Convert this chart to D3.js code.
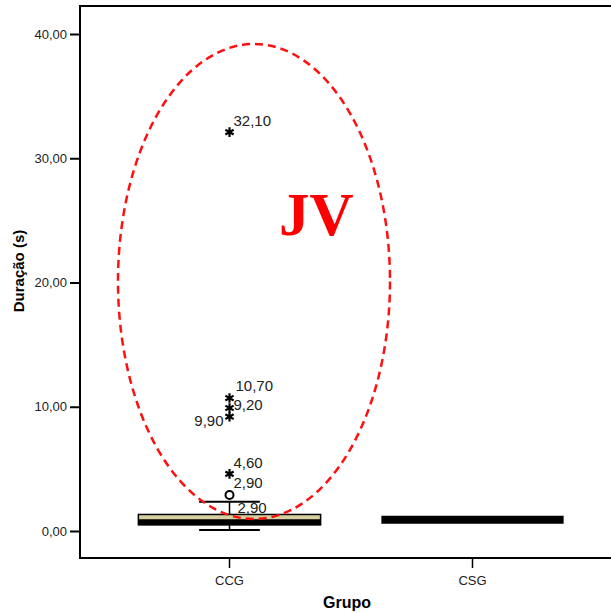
<!DOCTYPE html>
<html><head><meta charset="utf-8">
<script src="https://cdn.jsdelivr.net/npm/d3@7"></script>
<style>body{margin:0;background:#fff}svg{display:block}text{font-family:"Liberation Sans",Arial,sans-serif}</style>
</head><body><svg id="c" width="611" height="613"></svg>
<script>
const categories = ["CCG", "CSG"];
const whiskerLow = [0.08, 0.9];
const q1 = [0.5, 0.9];
const medians = [0.7, 0.9];
const q3 = [1.33, 0.9];
const whiskerHigh = [2.36, 0.9];
const outlierValues = [32.1, 10.7, 9.9, 9.2, 4.6, 2.9];
const outlierTypes = ["star", "star", "star", "star", "star", "circle"];
const outlierLabels = ["32,10", "10,70", "9,90", "9,20", "4,60", "2,90"];
const extraLabelValue = 2.9, extraLabel = "2,90";
const yTicks = [0, 10, 20, 30, 40];
const yTitle = "Duração (s)", xTitle = "Grupo", annotation = "JV";

const svg = d3.select("#c");
const L = 80, T = 6, B = 558, R = 611;
const y = d3.scaleLinear().domain([0, 40]).range([531, 34]);
const x = d3.scaleBand().domain(categories).range([108, 594]);
const bw = x.bandwidth();
const fmt = v => d3.format(".2f")(v).replace(".", ",");

// frame
svg.append("path").attr("d", `M${R},${T}H${L}V${B}H${R}`).attr("fill", "none").attr("stroke", "#000").attr("stroke-width", 2);

// y axis
const ya = svg.append("g").attr("transform", `translate(${L},0)`)
  .call(d3.axisLeft(y).tickValues(yTicks).tickFormat(fmt).tickSize(10).tickPadding(3));
ya.select(".domain").remove();
ya.selectAll("line").attr("stroke", "#000").attr("stroke-width", 2);
ya.selectAll("text").attr("font-size", 13).attr("fill", "#222").style("font-family", "Liberation Sans, Arial");

// x axis
const xa = svg.append("g").attr("transform", `translate(0,${B})`)
  .call(d3.axisBottom(x).tickSize(10).tickPadding(8));
xa.select(".domain").remove();
xa.selectAll("line").attr("stroke", "#000").attr("stroke-width", 1.5);
xa.selectAll("text").attr("font-size", 13).attr("fill", "#222").style("font-family", "Liberation Sans, Arial");

// titles
svg.append("text").attr("transform", "translate(24,271) rotate(-90)").attr("text-anchor", "middle")
  .attr("font-size", 15).attr("font-weight", "bold").text(yTitle);
svg.append("text").attr("x", 347).attr("y", 608).attr("text-anchor", "middle")
  .attr("font-size", 16).attr("font-weight", "bold").text(xTitle);

// boxes
categories.forEach((c, i) => {
  const cx = x(c) + bw / 2, hw = bw * 0.375, cw = bw * 0.125;
  const g = svg.append("g");
  if (q3[i] > q1[i]) {
    g.append("line").attr("x1", cx).attr("x2", cx).attr("y1", y(whiskerHigh[i])).attr("y2", y(q3[i])).attr("stroke", "#000").attr("stroke-width", 1.5);
    g.append("line").attr("x1", cx).attr("x2", cx).attr("y1", y(q1[i])).attr("y2", y(whiskerLow[i])).attr("stroke", "#000").attr("stroke-width", 1.5);
    [whiskerHigh[i], whiskerLow[i]].forEach(v => g.append("line").attr("x1", cx - cw).attr("x2", cx + cw)
      .attr("y1", y(v)).attr("y2", y(v)).attr("stroke", "#000").attr("stroke-width", 2));
    g.append("rect").attr("x", cx - hw).attr("width", 2 * hw).attr("y", y(q3[i])).attr("height", y(q1[i]) - y(q3[i]))
      .attr("fill", "#d6cf9f").attr("stroke", "#000").attr("stroke-width", 1.5);
  }
  g.append("line").attr("x1", cx - hw).attr("x2", cx + hw).attr("y1", y(medians[i])).attr("y2", y(medians[i]))
    .attr("stroke", "#000").attr("stroke-width", q3[i] > q1[i] ? 6 : 8);
});

// outliers
const ox = x("CCG") + bw / 2;
const offsets = [[4, -11, "start"], [6, -12, "start"], [-6, 13, "end"], [4, -12, "start"], [4, -11, "start"], [4, -12, "start"]];
outlierValues.forEach((v, i) => {
  if (outlierTypes[i] === "star") {
    svg.append("path").attr("transform", `translate(${ox},${y(v)})`)
      .attr("d", d3.symbol(d3.symbolAsterisk, 64)()).attr("stroke", "#000").attr("stroke-width", 2.2).attr("fill", "none");
  } else {
    svg.append("circle").attr("cx", ox).attr("cy", y(v)).attr("r", 4).attr("fill", "#fff").attr("stroke", "#000").attr("stroke-width", 2);
  }
  const o = offsets[i];
  svg.append("text").attr("x", ox + o[0]).attr("y", y(v) + o[1]).attr("dy", "0.35em").attr("text-anchor", o[2])
    .attr("font-size", 15).attr("fill", "#222").text(outlierLabels[i]);
});
svg.append("text").attr("x", ox + 8).attr("y", y(extraLabelValue) + 13).attr("dy", "0.35em")
  .attr("font-size", 15).attr("fill", "#222").text(extraLabel);

// annotation ellipse
svg.append("ellipse").attr("cx", 254).attr("cy", 281.5).attr("rx", 136).attr("ry", 237.5)
  .attr("fill", "none").attr("stroke", "#ff1010").attr("stroke-width", 2.5).attr("stroke-dasharray", "8,5");
svg.append("text").attr("x", 279).attr("y", 235).attr("font-size", 61).attr("font-weight", "bold")
  .style("font-family", "Liberation Serif, Times New Roman, serif").attr("fill", "#ff0000").text(annotation);
</script></body></html>
